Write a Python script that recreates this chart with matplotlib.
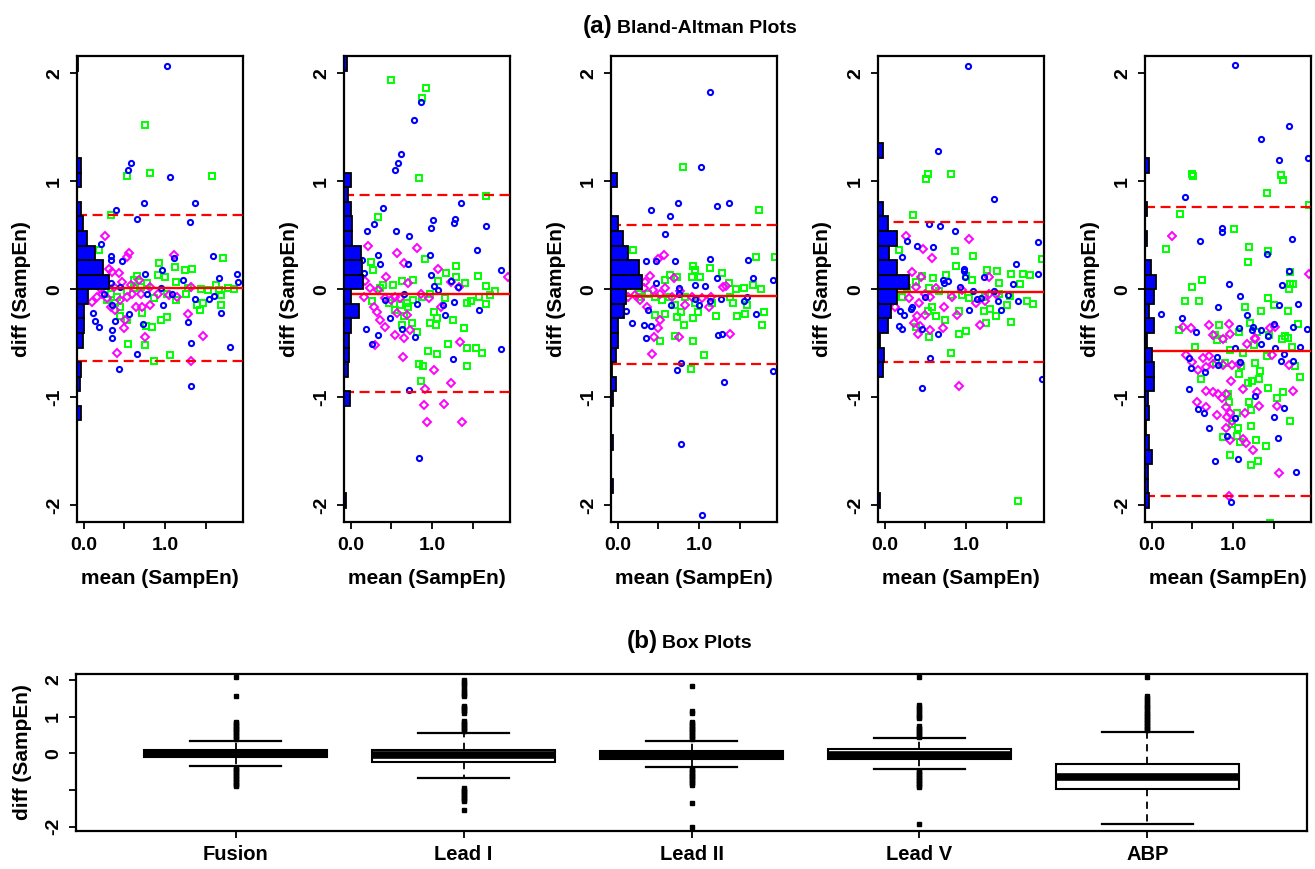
import matplotlib
matplotlib.use('Agg')
import matplotlib.pyplot as plt
import numpy as np

plt.rcParams['font.family'] = ['Liberation Sans', 'DejaVu Sans']
plt.rcParams['font.weight'] = 'bold'

W, H = 1315, 869
fig = plt.figure(figsize=(W / 100, H / 100), dpi=100)


def fx(px):
    return px / W


def fy(py):
    return 1 - py / H


# ---------------- data: Bland-Altman panels ----------------
bin_start = -2.16
bin_width = 0.135
# histogram bar lengths (bins from bottom -2.16 upward, 32 bins)
hist_p1 = [0, 0, 0, 0, 0, 0, 0, 0.05, 0, 0.04, 0.05, 0, 0.07, 0.08, 0.09, 0.13,
           0.39, 0.32, 0.22, 0.12, 0.07, 0.045, 0, 0.05, 0.05, 0, 0, 0, 0, 0, 0, 0.01]
hist_p2 = [0, 0.03, 0, 0, 0, 0, 0, 0, 0.07, 0, 0.05, 0.06, 0.06, 0.08, 0.18, 0.08,
           0.23, 0.22, 0.21, 0.10, 0.10, 0.08, 0.05, 0.08, 0, 0, 0, 0, 0, 0, 0, 0.04]
hist_p3 = [0, 0, 0.03, 0, 0, 0.03, 0, 0, 0.03, 0.06, 0.01, 0.06, 0.08, 0.08, 0.16, 0.185,
           0.38, 0.34, 0.21, 0.15, 0.08, 0, 0, 0.07, 0, 0, 0, 0, 0, 0, 0, 0]
hist_p4 = [0, 0.03, 0, 0, 0, 0, 0, 0, 0, 0, 0.06, 0.07, 0.03, 0.12, 0.16, 0.23,
           0.38, 0.23, 0.14, 0.23, 0.12, 0.06, 0, 0, 0, 0.06, 0, 0, 0, 0, 0, 0]
hist_p5 = [0, 0.05, 0.04, 0.04, 0.09, 0.05, 0.01, 0.05, 0.04, 0.11, 0.11, 0.08, 0.02, 0.11, 0.05, 0.11,
           0.14, 0.07, 0, 0.03, 0, 0.03, 0, 0, 0.05, 0, 0, 0, 0, 0, 0, 0]

mean_diff = [0.01, -0.046, -0.059, -0.028, -0.571]
upper_loa = [0.69, 0.873, 0.595, 0.626, 0.765]
lower_loa = [-0.665, -0.951, -0.692, -0.676, -1.914]

p1_blue = [(1.02, 2.07), (0.58, 1.17), (0.55, 1.10), (1.06, 1.04), (0.74, 0.80), (1.37, 0.80),
           (0.40, 0.73), (0.65, 0.65), (1.31, 0.62), (0.21, 0.42), (0.34, 0.31), (0.34, 0.27),
           (0.47, 0.26), (0.76, 0.14), (0.96, 0.18), (1.11, 0.29), (1.22, 0.09), (1.59, 0.31),
           (1.67, 0.10), (1.89, 0.14), (1.90, 0.07), (0.95, 0.01), (0.78, -0.04), (1.09, -0.04),
           (1.37, -0.09), (1.54, -0.09), (1.60, -0.06), (0.98, -0.15), (0.35, -0.15), (0.12, -0.22),
           (0.14, -0.29), (0.19, -0.35), (0.38, -0.29), (0.35, -0.38), (0.35, -0.45), (0.56, -0.23),
           (0.73, -0.32), (1.28, -0.30), (1.69, -0.22), (1.32, -0.50), (1.80, -0.53), (0.66, -0.60),
           (0.44, -0.74), (1.32, -0.90), (0.33, 0.06), (0.25, -0.04), (0.45, 0.02)]
p1_green = [(0.76, 1.52), (0.82, 1.08), (0.53, 1.05), (1.58, 1.05), (0.34, 0.69), (0.19, 0.36),
            (0.93, 0.24), (1.12, 0.21), (1.25, 0.18), (1.33, 0.19), (1.71, 0.29), (0.66, 0.12),
            (0.91, 0.13), (1.00, 0.11), (1.14, 0.07), (1.63, 0.04), (1.77, 0.01), (1.44, 0.0),
            (1.53, -0.01), (1.69, -0.05), (1.85, 0.0), (1.67, -0.01), (1.13, -0.10), (1.26, -0.04),
            (1.40, -0.15), (1.43, -0.19), (1.47, -0.13), (1.69, -0.15), (0.95, -0.28), (1.03, -0.26),
            (0.77, -0.34), (0.84, -0.35), (0.72, -0.22), (0.45, -0.25), (0.53, -0.28), (0.54, -0.51),
            (0.75, -0.52), (1.06, -0.61), (0.86, -0.66), (0.33, -0.04), (0.41, -0.07), (0.53, -0.02),
            (0.62, 0.01), (0.70, 0.02), (0.78, 0.06), (0.29, -0.10), (0.39, -0.13), (0.86, -0.08),
            (1.03, -0.04), (1.28, 0.01), (0.62, 0.09), (0.45, -0.16)]
p1_mag = [(0.26, 0.49), (0.56, 0.34), (0.53, 0.30), (1.11, 0.32), (0.31, 0.19), (0.35, 0.16),
          (0.43, 0.15), (0.68, 0.09), (0.10, -0.12), (0.16, -0.07), (0.23, -0.04), (0.29, -0.08),
          (0.33, -0.16), (0.39, -0.19), (0.45, -0.10), (0.53, -0.07), (0.60, -0.04), (0.64, -0.16),
          (0.72, -0.16), (0.82, -0.15), (0.51, -0.28), (0.50, -0.36), (0.75, -0.44), (0.82, 0.02),
          (0.91, -0.04), (1.05, -0.05), (1.15, -0.07), (1.28, -0.23), (1.32, 0.02), (1.47, -0.43),
          (0.41, -0.59), (1.32, -0.66), (0.21, 0.0), (0.37, 0.02), (0.47, 0.07), (0.58, 0.04),
          (0.70, -0.04)]

p2_blue = [(0.86, 1.73), (0.78, 1.57), (0.62, 1.25), (0.58, 1.17), (0.55, 1.10), (1.36, 0.80),
           (0.40, 0.75), (1.28, 0.65), (1.01, 0.64), (1.27, 0.61), (0.29, 0.60), (0.99, 0.57),
           (1.66, 0.59), (0.20, 0.54), (0.56, 0.54), (0.72, 0.49), (1.56, 0.36), (0.33, 0.32),
           (0.98, 0.32), (0.14, 0.27), (0.36, 0.23), (0.71, 0.23), (1.85, 0.18), (0.16, 0.15),
           (0.99, 0.13), (1.02, 0.03), (1.08, -0.01), (1.32, 0.02), (1.23, 0.08), (0.82, -0.14),
           (1.14, -0.15), (1.27, -0.12), (1.58, -0.19), (1.16, -0.24), (0.48, -0.27), (0.19, -0.37),
           (0.33, -0.42), (0.79, -0.44), (0.26, -0.51), (0.63, -0.37), (1.85, -0.55), (1.26, -0.65),
           (0.72, -0.93), (0.84, -1.56), (0.42, -0.10), (0.65, -0.04)]
p2_green = [(0.49, 1.94), (0.93, 1.86), (0.88, 1.77), (0.84, 1.03), (1.67, 0.86), (0.34, 0.67),
            (0.25, 0.25), (0.27, 0.18), (0.91, 0.28), (1.17, 0.15), (1.30, 0.22), (1.29, 0.11),
            (1.57, 0.12), (1.66, 0.03), (1.77, -0.02), (1.72, -0.05), (1.67, -0.14), (1.58, -0.07),
            (1.41, 0.06), (1.43, -0.13), (1.48, -0.11), (1.16, -0.08), (1.07, 0.08), (0.77, 0.09),
            (0.63, 0.08), (0.52, 0.04), (0.40, 0.04), (0.36, 0.01), (0.26, -0.11), (0.47, -0.13),
            (0.55, -0.19), (0.61, -0.15), (0.69, -0.13), (0.77, -0.10), (0.88, -0.07), (0.98, -0.04),
            (1.03, -0.21), (1.06, -0.27), (0.97, -0.31), (1.05, -0.33), (1.26, -0.28), (0.75, -0.31),
            (0.81, -0.40), (0.63, -0.33), (1.40, -0.36), (1.20, -0.51), (1.43, -0.54), (1.54, -0.54),
            (1.61, -0.59), (0.95, -0.57), (1.06, -0.60), (0.84, -0.69), (0.89, -0.71), (1.43, -0.71),
            (0.87, -0.85), (0.71, -0.16), (0.65, -0.25)]
p2_mag = [(0.21, 0.40), (0.57, 0.34), (0.81, 0.38), (0.65, 0.24), (1.07, 0.19), (0.44, 0.11),
          (0.18, 0.08), (0.71, 0.06), (1.23, 0.07), (1.93, 0.11), (0.16, -0.07), (0.24, 0.01),
          (0.34, -0.01), (0.29, -0.16), (0.32, -0.21), (0.36, -0.28), (0.42, -0.08), (0.49, -0.10),
          (0.55, -0.07), (0.61, -0.08), (0.69, -0.24), (0.57, -0.22), (0.42, -0.35), (0.55, -0.42),
          (0.66, -0.45), (0.73, -0.38), (0.86, -0.04), (0.96, -0.08), (1.11, -0.16), (1.33, 0.02),
          (1.35, -0.49), (0.30, -0.52), (0.64, -0.63), (1.03, -0.75), (1.23, -0.87), (0.91, -0.92),
          (0.90, -1.07), (1.15, -1.06), (0.94, -1.23), (1.37, -1.23)]

p3_blue = [(1.14, 1.83), (1.03, 1.13), (0.74, 0.80), (1.37, 0.80), (1.22, 0.77), (0.41, 0.73),
           (0.64, 0.68), (0.58, 0.51), (0.35, 0.26), (0.47, 0.26), (0.70, 0.26), (1.13, 0.28),
           (1.60, 0.27), (1.67, 0.10), (1.91, 0.09), (1.22, 0.10), (0.47, 0.06), (0.95, 0.04),
           (1.08, 0.03), (0.76, 0.01), (0.76, -0.04), (0.95, -0.09), (1.13, -0.11), (1.27, -0.09),
           (1.55, -0.11), (1.59, -0.07), (1.00, -0.15), (0.65, -0.15), (0.37, -0.19), (0.10, -0.20),
           (0.17, -0.31), (0.32, -0.33), (0.41, -0.34), (1.70, -0.23), (1.28, -0.41), (1.24, -0.42),
           (0.35, -0.45), (0.78, -0.68), (0.73, -0.75), (1.91, -0.76), (1.31, -0.86), (0.78, -1.43),
           (1.04, -2.09)]
p3_green = [(0.80, 1.13), (1.74, 0.73), (0.19, 0.36), (1.70, 0.30), (1.94, 0.30), (0.93, 0.22),
            (1.13, 0.20), (0.95, 0.18), (1.28, 0.15), (0.64, 0.13), (0.58, 0.09), (0.73, 0.11),
            (0.91, 0.11), (1.01, 0.11), (1.37, 0.06), (1.67, 0.04), (1.76, 0.0), (1.45, 0.0),
            (1.56, 0.01), (1.38, -0.07), (1.42, -0.13), (1.59, -0.15), (1.16, -0.13), (0.95, -0.13),
            (0.70, -0.15), (0.46, -0.07), (0.37, -0.04), (0.29, -0.07), (0.54, -0.10), (0.63, -0.07),
            (0.83, -0.07), (0.78, -0.21), (0.73, -0.26), (0.58, -0.23), (0.46, -0.24), (0.99, -0.21),
            (0.93, -0.27), (1.21, -0.25), (1.47, -0.25), (1.57, -0.23), (1.80, -0.21), (1.78, -0.33),
            (0.82, -0.33), (0.70, -0.43), (0.52, -0.48), (0.93, -0.48), (1.06, -0.61), (0.90, -0.74),
            (0.26, -0.04)]
p3_mag = [(0.57, 0.32), (0.50, 0.28), (0.40, 0.12), (0.69, 0.10), (0.34, 0.07), (0.21, -0.05),
          (0.28, -0.10), (0.36, -0.16), (0.32, 0.01), (0.44, -0.01), (0.52, -0.04), (0.58, 0.01),
          (0.67, -0.07), (0.77, -0.02), (0.83, -0.15), (0.91, -0.07), (1.04, -0.08), (1.12, -0.16),
          (1.15, -0.07), (1.30, 0.02), (1.33, 0.03), (0.52, -0.28), (0.50, -0.36), (0.45, -0.44),
          (0.76, -0.44), (1.38, -0.41), (0.42, -0.60), (0.13, -0.07)]

p4_blue = [(1.03, 2.07), (0.65, 1.28), (1.35, 0.84), (0.54, 0.60), (0.68, 0.59), (0.87, 0.54),
           (1.89, 0.44), (0.27, 0.45), (0.40, 0.40), (0.59, 0.39), (0.21, 0.30), (1.62, 0.23),
           (0.97, 0.19), (0.98, 0.17), (1.89, 0.14), (0.99, 0.11), (1.22, 0.11), (1.58, 0.05),
           (0.72, 0.09), (0.78, 0.08), (0.93, 0.02), (0.73, 0.06), (1.09, -0.02), (1.35, -0.02),
           (0.50, -0.07), (1.13, -0.09), (1.18, -0.08), (1.52, -0.05), (1.64, -0.11), (1.39, -0.11),
           (1.43, -0.19), (1.04, -0.19), (0.34, -0.16), (0.32, -0.18), (0.19, -0.20), (0.24, -0.24),
           (0.18, -0.34), (0.21, -0.37), (0.46, -0.37), (0.65, -0.41), (0.56, -0.64), (0.46, -0.91),
           (1.94, -0.83)]
p4_green = [(0.51, 1.02), (0.53, 1.07), (0.82, 1.07), (0.35, 0.69), (0.18, 0.36), (0.87, 0.35),
            (1.09, 0.31), (0.88, 0.22), (1.26, 0.18), (1.38, 0.17), (1.56, 0.14), (1.70, 0.14),
            (1.79, 0.13), (1.94, 0.28), (1.41, 0.06), (1.66, 0.05), (1.08, 0.09), (1.00, 0.12),
            (0.75, 0.13), (0.60, 0.10), (0.46, 0.12), (0.38, 0.07), (0.28, 0.01), (0.21, -0.07),
            (0.54, 0.01), (0.67, -0.02), (0.81, -0.05), (0.95, -0.05), (1.04, -0.08), (1.23, -0.07),
            (1.41, -0.04), (1.54, -0.06), (1.75, -0.11), (1.83, -0.14), (1.51, -0.15), (1.30, -0.18),
            (1.22, -0.20), (0.92, -0.20), (0.63, -0.25), (0.53, -0.20), (0.58, -0.16), (0.74, -0.28),
            (1.37, -0.25), (1.56, -0.30), (1.25, -0.31), (0.91, -0.41), (1.00, -0.39), (0.38, -0.35),
            (0.54, -0.44), (0.82, -0.59), (1.64, -1.96)]
p4_mag = [(0.26, 0.49), (1.04, 0.47), (0.47, 0.37), (0.58, 0.29), (0.34, 0.16), (0.45, 0.11),
          (1.28, 0.11), (0.13, -0.16), (0.30, -0.08), (0.38, 0.02), (0.42, -0.13), (0.50, -0.04),
          (0.56, -0.07), (0.63, 0.01), (0.73, -0.16), (0.83, -0.07), (0.95, -0.01), (1.12, -0.13),
          (1.24, -0.11), (1.28, -0.04), (1.37, -0.04), (0.40, -0.25), (0.50, -0.24), (0.89, -0.24),
          (0.36, -0.31), (0.44, -0.34), (0.72, -0.36), (0.56, -0.38), (0.41, -0.41), (1.17, -0.33),
          (0.91, -0.90)]

p5_blue = [(1.03, 2.08), (1.69, 1.51), (1.34, 1.39), (1.57, 1.20), (1.92, 1.22), (0.41, 0.85),
           (0.87, 0.57), (0.86, 0.53), (0.60, 0.45), (1.73, 0.47), (1.42, 0.33), (1.69, 0.17),
           (1.60, 0.04), (0.95, 0.05), (1.09, -0.06), (0.82, -0.16), (1.57, -0.15), (1.80, -0.14),
           (0.12, -0.23), (0.37, -0.27), (0.54, -0.40), (1.17, -0.24), (1.07, -0.36), (1.25, -0.35),
           (1.34, -0.38), (1.50, -0.32), (1.43, -0.43), (1.74, -0.35), (1.91, -0.37), (1.83, -0.53),
           (1.03, -0.54), (1.34, -0.51), (1.52, -0.54), (0.46, -0.64), (0.48, -0.73), (0.80, -0.63),
           (0.81, -0.70), (0.65, -0.77), (1.09, -0.67), (1.63, -0.60), (1.59, -0.66), (1.74, -0.66),
           (0.46, -0.92), (1.27, -0.99), (0.57, -1.11), (0.64, -1.15), (1.63, -1.10), (1.51, -1.18),
           (1.03, -1.19), (0.71, -1.28), (0.93, -1.36), (1.56, -1.38), (1.06, -1.57), (0.78, -1.59),
           (1.77, -1.69), (0.97, -1.97), (1.23, -0.38)]
p5_green = [(0.50, 1.07), (0.51, 1.05), (1.59, 1.06), (1.61, 1.01), (1.42, 0.89), (0.35, 0.70),
            (1.94, 0.78), (1.01, 0.56), (0.18, 0.37), (1.20, 0.39), (1.43, 0.35), (1.19, 0.25),
            (1.70, 0.16), (0.62, 0.09), (0.49, 0.02), (1.70, 0.05), (1.74, 0.05), (1.69, 0.0),
            (0.41, -0.11), (0.58, -0.11), (1.43, -0.08), (1.15, -0.16), (1.35, -0.20), (1.51, -0.15),
            (1.68, -0.20), (1.80, -0.32), (0.33, -0.38), (0.83, -0.33), (0.88, -0.46), (0.78, -0.42),
            (1.07, -0.40), (1.21, -0.31), (1.29, -0.40), (1.44, -0.42), (1.60, -0.46), (1.64, -0.43),
            (1.68, -0.45), (1.73, -0.53), (0.53, -0.53), (1.12, -0.59), (1.26, -0.52), (1.42, -0.62),
            (0.79, -0.68), (0.90, -0.68), (1.10, -0.71), (1.27, -0.68), (1.33, -0.76), (1.32, -0.83),
            (1.23, -0.85), (1.19, -0.87), (1.08, -0.78), (1.76, -0.71), (1.83, -0.81), (1.43, -0.91),
            (1.62, -0.95), (0.61, -0.83), (0.94, -0.97), (1.54, -1.01), (1.20, -1.04), (0.95, -1.04),
            (1.22, -1.12), (1.70, -1.22), (1.05, -1.15), (0.99, -1.25), (1.06, -1.28), (1.22, -1.27),
            (0.88, -1.37), (1.05, -1.36), (1.28, -1.40), (1.09, -1.41), (1.41, -1.45), (0.96, -1.53),
            (1.31, -1.59), (1.22, -1.63), (1.45, -2.16), (0.80, -0.47), (0.96, -0.56)]
p5_mag = [(0.25, 0.49), (1.93, 0.14), (0.39, -0.35), (0.48, -0.36), (0.71, -0.33), (0.76, -0.42),
          (0.88, -0.46), (0.95, -0.32), (0.96, -0.41), (1.27, -0.45), (1.45, -0.36), (1.52, -0.35),
          (0.42, -0.61), (0.50, -0.67), (0.57, -0.75), (0.63, -0.64), (0.71, -0.62), (0.67, -0.72),
          (0.76, -0.69), (0.88, -0.70), (0.99, -0.70), (1.07, -0.69), (1.17, -0.51), (1.27, -0.46),
          (1.48, -0.61), (1.69, -0.70), (0.98, -0.85), (1.12, -0.92), (0.67, -0.94), (0.75, -0.95),
          (0.82, -0.97), (0.92, -0.97), (0.87, -1.01), (1.29, -0.95), (1.74, -0.94), (0.56, -1.04),
          (0.67, -1.09), (0.80, -1.16), (0.91, -1.09), (0.96, -1.15), (1.15, -1.15), (1.32, -1.08),
          (1.54, -1.08), (0.93, -1.18), (0.99, -1.22), (0.91, -1.28), (0.96, -1.40), (1.12, -1.39),
          (1.16, -1.42), (1.25, -1.49), (1.57, -1.70), (0.95, -1.91)]

hists = [hist_p1, hist_p2, hist_p3, hist_p4, hist_p5]
blues = [p1_blue, p2_blue, p3_blue, p4_blue, p5_blue]
greens = [p1_green, p2_green, p3_green, p4_green, p5_green]
mags = [p1_mag, p2_mag, p3_mag, p4_mag, p5_mag]

# ---------------- data: box plots ----------------
box_labels = ['Fusion', 'Lead I', 'Lead II', 'Lead V', 'ABP']
box_q1 = [-0.11, -0.23, -0.16, -0.15, -0.98]
box_med = [0.0, -0.045, -0.05, -0.05, -0.64]
box_q3 = [0.09, 0.09, 0.06, 0.12, -0.29]
box_whislo = [-0.35, -0.68, -0.38, -0.43, -1.93]
box_whishi = [0.34, 0.55, 0.34, 0.41, 0.57]
out_fusion = [0.38, 0.42, 0.46, 0.50, 0.54, 0.58, 0.62, 0.66, 0.70, 0.74, 0.78, 0.82, 0.86,
              1.55, 2.08, -0.39, -0.43, -0.47, -0.51, -0.55, -0.59, -0.63, -0.67, -0.71,
              -0.75, -0.79, -0.83, -0.87, -0.90]
out_lead1 = [0.60, 0.64, 0.68, 0.72, 0.76, 0.80, 0.84, 0.88, 1.10, 1.14, 1.18, 1.22, 1.26,
             1.30, 1.55, 1.60, 1.65, 1.70, 1.76, 1.82, 1.88, 1.94, 2.00, -0.95, -0.99, -1.03,
             -1.07, -1.11, -1.15, -1.19, -1.23, -1.27, -1.31, -1.55]
out_lead2 = [0.38, 0.42, 0.46, 0.50, 0.54, 0.58, 0.62, 0.66, 0.70, 0.74, 0.78, 0.82, 0.86,
             1.10, 1.14, 1.84, -0.42, -0.46, -0.50, -0.54, -0.58, -0.62, -0.66, -0.70, -0.74,
             -0.78, -0.82, -0.86, -1.36, -2.00]
out_leadv = [0.45, 0.49, 0.53, 0.57, 0.61, 0.65, 0.69, 0.73, 0.95, 1.00, 1.05, 1.10, 1.15,
             1.20, 1.26, 1.32, 2.07, -0.48, -0.52, -0.56, -0.60, -0.64, -0.68, -0.72, -0.76,
             -0.80, -0.84, -0.88, -0.92, -1.93]
out_abp = [0.62, 0.66, 0.70, 0.74, 0.78, 0.82, 0.86, 0.90, 0.94, 0.98, 1.02, 1.06, 1.10,
           1.15, 1.20, 1.25, 1.30, 1.35, 1.40, 1.45, 1.50, 1.56, 2.07]
box_out = [out_fusion, out_lead1, out_lead2, out_leadv, out_abp]

# ---------------- styling constants ----------------
BLUE = '#0000FF'
GREEN = '#00FF00'
MAGENTA = '#FF00FF'
RED = '#FF0000'
panel_left_px = [77, 344, 611, 878, 1145]
panel_w_px = 166
panel_top_px, panel_bot_px = 56, 522
XLIM = (-0.083, 1.96)
YLIM = (-2.155, 2.16)
TICK_FS = 14
LABEL_FS = 15

for k in range(5):
    ax = fig.add_axes([fx(panel_left_px[k]), fy(panel_bot_px), panel_w_px / W,
                       (panel_bot_px - panel_top_px) / H])
    ax.set_xlim(*XLIM)
    ax.set_ylim(*YLIM)
    g = np.array(greens[k])
    m = np.array(mags[k])
    b = np.array(blues[k])
    ax.plot(g[:, 0], g[:, 1], 's', mfc='none', mec=GREEN, ms=4.4, mew=1.4, zorder=2)
    ax.plot(m[:, 0], m[:, 1], 'D', mfc='none', mec=MAGENTA, ms=3.8, mew=1.4, zorder=2)
    ax.plot(b[:, 0], b[:, 1], 'o', mfc='none', mec=BLUE, ms=3.7, mew=1.5, zorder=2)
    ax.axhline(mean_diff[k], color=RED, lw=1.7, zorder=3)
    ax.axhline(upper_loa[k], color=RED, lw=1.6, ls=(0, (4.5, 2.5)), zorder=3)
    ax.axhline(lower_loa[k], color=RED, lw=1.6, ls=(0, (4.5, 2.5)), zorder=3)
    edges = bin_start + bin_width * np.arange(len(hists[k]))
    ax.barh(edges, hists[k], height=bin_width, left=XLIM[0], align='edge',
            color=BLUE, edgecolor='black', lw=1.3, zorder=4)
    ax.set_xticks([0, 0.5, 1.0, 1.5])
    ax.set_xticklabels(['0.0', '', '1.0', ''])
    ax.set_yticks([-2, -1, 0, 1, 2])
    ax.set_yticklabels(['-2', '-1', '0', '1', '2'], rotation=90, va='center')
    ax.tick_params(axis='both', length=5, width=1.3, labelsize=TICK_FS)
    ax.tick_params(axis='x', pad=6)
    ax.tick_params(axis='y', pad=5)
    for s in ax.spines.values():
        s.set_linewidth(1.6)
    ax.set_xlabel('mean (SampEn)', fontsize=LABEL_FS, fontweight='bold')
    ax.xaxis.label.set_va('center')
    ax.xaxis.set_label_coords(0.5, (panel_bot_px - 578) / (panel_bot_px - panel_top_px))
    ax.set_ylabel('diff (SampEn)', fontsize=LABEL_FS, fontweight='bold')
    ax.yaxis.label.set_va('center')
    ax.yaxis.set_label_coords(-55 / panel_w_px, 0.5)

# ---------------- box plot panel ----------------
bx_left, bx_right, bx_top, bx_bot = 76, 1307, 674, 831
axb = fig.add_axes([fx(bx_left), fy(bx_bot), (bx_right - bx_left) / W, (bx_bot - bx_top) / H])
stats = []
for i in range(5):
    stats.append(dict(whislo=box_whislo[i], q1=box_q1[i], med=box_med[i], q3=box_q3[i],
                      whishi=box_whishi[i], fliers=np.array(box_out[i]), label=box_labels[i]))
axb.bxp(stats, positions=[1, 2, 3, 4, 5], widths=0.8, capwidths=0.4, showfliers=True,
        patch_artist=True,
        boxprops=dict(facecolor='white', edgecolor='black', lw=1.5),
        medianprops=dict(color='black', lw=5.5, solid_capstyle='butt'),
        whiskerprops=dict(color='black', lw=1.3, ls=(0, (4, 3))),
        capprops=dict(color='black', lw=1.6),
        flierprops=dict(marker='s', ms=3.0, mfc='black', mec='black', lw=0))
axb.set_xlim(0.3, 5.7)
axb.set_ylim(-2.12, 2.16)
axb.set_yticks([-2, -1, 0, 1, 2])
axb.set_yticklabels(['-2', '', '0', '1', '2'], rotation=90, va='center')
axb.tick_params(axis='both', length=5, width=1.3)
axb.tick_params(axis='y', labelsize=TICK_FS, pad=5)
axb.tick_params(axis='x', labelsize=14.5, pad=5)
for s in axb.spines.values():
    s.set_linewidth(1.6)
axb.set_ylabel('diff (SampEn)', fontsize=LABEL_FS, fontweight='bold')
axb.yaxis.label.set_va('center')
axb.yaxis.set_label_coords((22 - bx_left) / (bx_right - bx_left), 0.5)

# ---------------- titles ----------------
def title_pair(tag, rest, xc, ybase):
    t1 = fig.text(0, fy(ybase), tag, fontsize=17.5, fontweight='bold', va='baseline', ha='left')
    t2 = fig.text(0, fy(ybase), rest, fontsize=14, fontweight='bold', va='baseline', ha='left')
    fig.canvas.draw()
    r = fig.canvas.get_renderer()
    w1 = t1.get_window_extent(r).width
    w2 = t2.get_window_extent(r).width
    gap = 4
    x0 = xc - (w1 + gap + w2) / 2
    t1.set_x(fx(x0))
    t2.set_x(fx(x0 + w1 + gap))


title_pair('(a)', 'Bland-Altman Plots', 690, 33)
title_pair('(b)', 'Box Plots', 689, 648)

fig.savefig('out.png', dpi=100)
